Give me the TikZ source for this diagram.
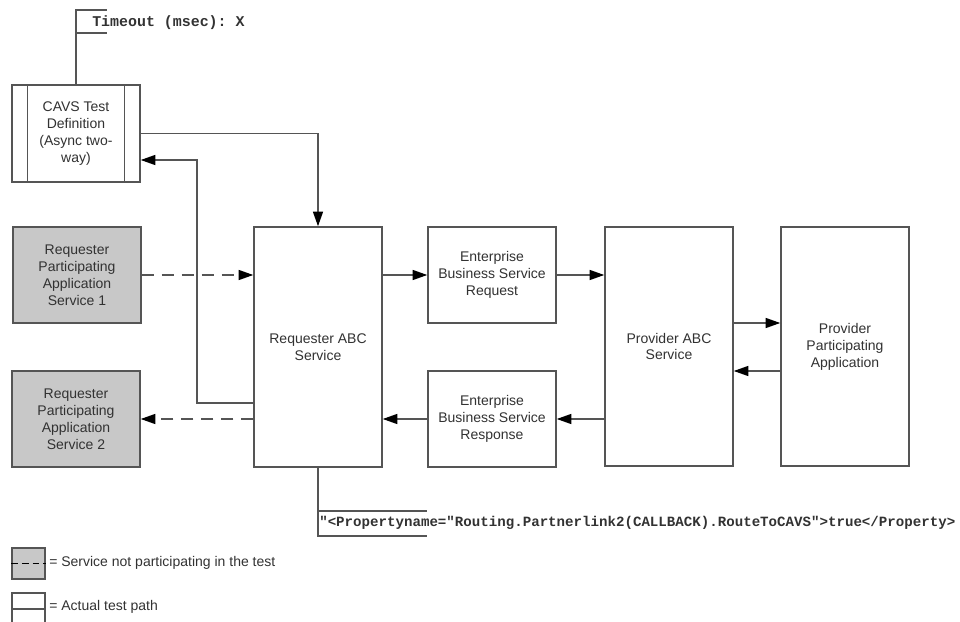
\documentclass[tikz,border=0pt]{standalone}
\usepackage{fontspec}
\setsansfont{Liberation Sans}
\setmonofont{Liberation Mono}
\usepackage{xcolor}
\usetikzlibrary{arrows.meta}

\definecolor{linegray}{RGB}{85,85,85}
\definecolor{boxgray}{RGB}{200,200,200}
\definecolor{textgray}{RGB}{50,50,50}

\begin{document}
\begin{tikzpicture}[x=0.75pt,y=-0.75pt,
        every node/.style={font=\sffamily\fontsize{10.5}{12.7}\selectfont, text=textgray},
        box/.style={draw=linegray, line width=1.1pt, fill=white, align=center, inner sep=0pt,
            minimum width=96pt, minimum height=72pt},
        tallbox/.style={box, minimum height=180pt},
        grey/.style={box, fill=boxgray},
        arr/.style={-{Triangle[length=11pt,width=7.5pt,color=black,fill=black]}, line width=1.1pt, draw=linegray},
        dsh/.style={arr, dash pattern=on 9pt off 6pt},
        mono/.style={font=\ttfamily\bfseries\fontsize{10.6}{12}\selectfont, anchor=west, inner sep=0pt}]
        \useasboundingbox (0,0) rectangle (960,621);
        % boxes
        \node[box, minimum height=72.75pt] (cavs) at (76,133.5) {CAVS Test\\Definition\\(Async two-\\way)};
        \draw[linegray, line width=1.1pt] ([xshift=12pt]cavs.north west) -- ([xshift=12pt]cavs.south west);
        \draw[linegray, line width=1.1pt] ([xshift=-12pt]cavs.north east) -- ([xshift=-12pt]cavs.south east);
        \node[grey] (reqpa1) at (77,275) {Requester\\Participating\\Application\\Service 1};
        \node[grey] (reqpa2) at (76,419) {Requester\\Participating\\Application\\Service 2};
        \node[tallbox] (reqabc) at (318,347) {Requester ABC\\Service};
        \node[box] (ebsreq) at (492,275) {Enterprise\\Business Service\\Request};
        \node[box] (ebsresp) at (492,419) {Enterprise\\Business Service\\Response};
        \node[tallbox, minimum height=179pt] (provabc) at (669,346.5) {Provider ABC\\Service};
        \node[tallbox, minimum height=179pt] (provpa) at (845,346.5) {Provider\\Participating\\Application};
        %
        \draw[arr] (cavs.east) -| (reqabc.north);
        \draw[arr] (reqabc.west |- 0,403) -| (197,160) -- (cavs.east |- 0,160);
        \draw[dsh] (reqpa1.east) -- (reqabc.west |- reqpa1.east);
        \draw[dsh] (reqabc.west |- reqpa2.east) -- (reqpa2.east);
        \draw[arr] (reqabc.east |- ebsreq.west) -- (ebsreq.west);
        \draw[arr] (ebsreq.east) -- (provabc.west |- ebsreq.east);
        \draw[arr] (provabc.west |- ebsresp.east) -- (ebsresp.east);
        \draw[arr] (ebsresp.west) -- (reqabc.east |- ebsresp.west);
        \draw[arr] (provabc.east |- 0,323) -- (provpa.west |- 0,323);
        \draw[arr] (provpa.west |- 0,371) -- (provabc.east |- 0,371);
        %
        \node[mono, font=\ttfamily\bfseries\fontsize{11.2}{12}\selectfont] (timeout) at (92,23) {Timeout (msec): X};
        \draw[linegray, line width=1.1pt] (cavs.north) -- (76,10) -- (107,10);
        \draw[linegray, line width=1.1pt] (76,33) -- (107,33);
        \node[mono] (route) at (319,523) {"<Propertyname="Routing.Partnerlink2(CALLBACK).RouteToCAVS">true</Property>};
        \draw[linegray, line width=1.1pt] (reqabc.south) -- (318,536) -- (427,536);
        \draw[linegray, line width=1.1pt] (318,511) -- (427,511);
        % legend
        \node[grey, minimum width=24.75pt, minimum height=23.25pt] (keygrey) at (28.5,563.5) {};
        \draw[black, line width=1.1pt, dash pattern=on 5pt off 3pt] (keygrey.west) -- (keygrey.east);
        \node[anchor=west, inner sep=0pt] (keygreytxt) at (49,563) {= Service not participating in the test};
        \node[box, minimum width=24.75pt, minimum height=24pt] (keywhite) at (28.5,609) {};
        \draw[linegray, line width=1.1pt] (keywhite.west) -- (keywhite.east);
        \node[anchor=west, inner sep=0pt] (keywhitetxt) at (49,607) {= Actual test path};
    \end{tikzpicture}
\end{document}
